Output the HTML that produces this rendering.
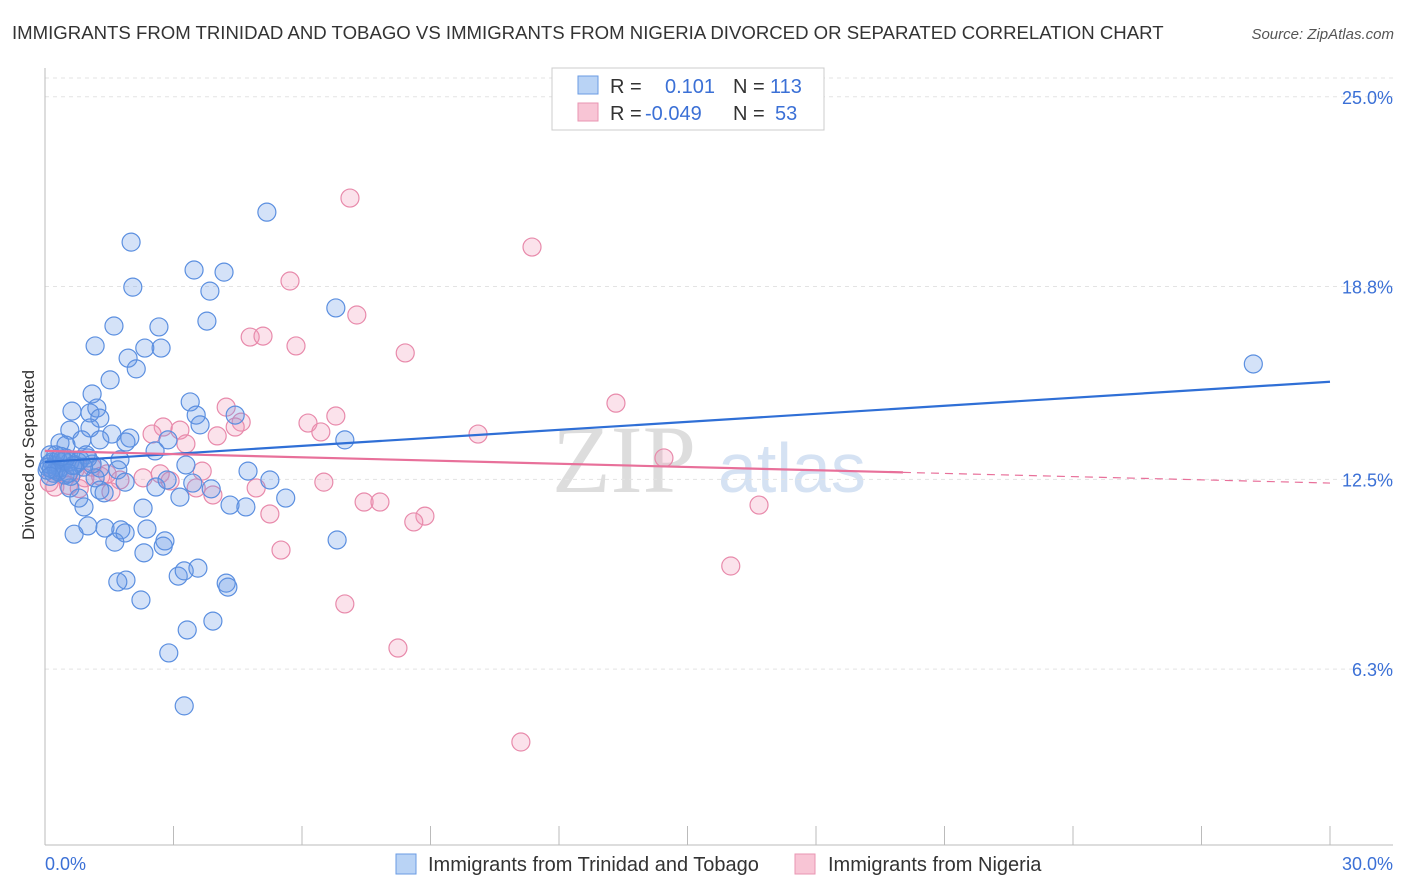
<!DOCTYPE html>
<html><head><meta charset="utf-8">
<style>
body{margin:0;background:#fff;font-family:"Liberation Sans",sans-serif;}
#wrap{position:relative;width:1406px;height:892px;overflow:hidden;}
svg{position:absolute;left:0;top:0;}
</style></head>
<body>
<div id="wrap">
<svg id="chart" width="1406" height="892">
  <text x="12" y="39" font-size="18.6" fill="#333">IMMIGRANTS FROM TRINIDAD AND TOBAGO VS IMMIGRANTS FROM NIGERIA DIVORCED OR SEPARATED CORRELATION CHART</text>
  <text x="1394" y="39" font-size="15" fill="#555" font-style="italic" text-anchor="end">Source: ZipAtlas.com</text>
  <text x="0" y="0" transform="translate(34,455) rotate(-90)" font-size="17" fill="#333" text-anchor="middle">Divorced or Separated</text>
  <text x="552" y="492" font-size="96" fill="#ddd" font-family="Liberation Serif,serif">ZIP</text>
  <text x="718" y="492" font-size="70" fill="#d5e2f3">atlas</text>
  <g id="grid"></g>
  <g id="pts"></g>
  <g id="trend"></g>
  <g>
    <rect x="552" y="68" width="272" height="62" fill="#fff" stroke="#ccc"/>
    <rect x="578" y="76" width="20" height="18" fill="#b9d3f5" stroke="#6a9be3"/>
    <rect x="578" y="103" width="20" height="18" fill="#f8c5d5" stroke="#e995b2"/>
    <text x="610" y="93" font-size="20" fill="#333">R = <tspan x="665" fill="#3b70d6">0.101</tspan><tspan x="733" fill="#333">N = </tspan><tspan x="770" fill="#3b70d6">113</tspan></text>
    <text x="610" y="120" font-size="20" fill="#333">R = <tspan x="645" fill="#3b70d6">-0.049</tspan><tspan x="733" fill="#333">N = </tspan><tspan x="775" fill="#3b70d6">53</tspan></text>
  </g>
  <g>
    <rect x="396" y="854" width="20" height="20" fill="#b9d3f5" stroke="#6a9be3"/>
    <text x="428" y="871" font-size="20" fill="#333">Immigrants from Trinidad and Tobago</text>
    <rect x="795" y="854" width="20" height="20" fill="#f8c5d5" stroke="#e995b2"/>
    <text x="828" y="871" font-size="20" fill="#333">Immigrants from Nigeria</text>
  </g>
  <text x="45" y="870" font-size="18" fill="#3b70d6">0.0%</text>
  <text x="1393" y="870" font-size="18" fill="#3b70d6" text-anchor="end">30.0%</text>
</svg>
</div>
<script>
const yTicks=[25.0,18.8,12.5,6.3];
const yTickLabels=["25.0%","18.8%","12.5%","6.3%"];
const xTicks=[0,3,6,9,12,15,18,21,24,27,30];
const blueX=[5.18,2.01,3.48,4.18,2.05,3.85,6.79,3.78,1.61,2.66,1.17,2.33,2.71,1.94,2.13,28.21,1.52,1.10,3.39,0.63,1.21,1.05,1.28,3.53,4.44,3.62,0.58,1.05,1.56,1.98,2.87,7.0,0.35,0.49,0.86,1.28,1.89,2.57,0.12,0.30,0.58,0.96,1.75,3.29,4.74,1.70,0.26,0.77,1.28,5.25,0.47,1.17,1.87,2.59,2.85,3.45,3.88,1.28,0.58,1.38,3.15,4.32,4.69,5.62,0.79,0.91,2.29,0.68,1.0,1.40,1.77,2.38,1.87,1.63,2.80,2.76,2.31,6.82,1.89,1.70,3.11,3.25,3.57,4.23,4.27,2.24,3.32,3.92,2.89,3.25,0.16,0.23,0.40,0.07,0.35,0.70,0.82,1.0,0.49,0.2,0.6,0.1,0.3,0.45,0.15,0.9,1.1,0.05,0.55,0.25,0.65,0.38,0.12];
const blueY=[21.23,20.25,19.34,19.27,18.78,18.65,18.10,17.67,17.51,17.48,16.86,16.79,16.79,16.46,16.11,16.27,15.75,15.29,15.03,14.73,14.83,14.67,14.50,14.60,14.60,14.28,14.11,14.18,13.98,13.85,13.79,13.79,13.69,13.62,13.79,13.79,13.72,13.43,13.30,13.14,13.07,13.30,13.14,12.97,12.77,12.81,12.81,13.07,12.87,12.48,12.64,12.55,12.41,12.25,12.48,12.38,12.19,12.15,12.22,12.06,11.92,11.66,11.60,11.89,11.89,11.60,11.56,10.71,10.98,10.91,10.85,10.88,10.75,10.45,10.49,10.32,10.10,10.52,9.21,9.15,9.34,9.51,9.60,9.11,8.98,8.56,7.58,7.87,6.83,5.10,13.07,12.97,13.14,12.90,12.87,12.97,13.14,13.2,13.2,12.7,12.6,13.0,12.75,13.1,12.85,12.9,13.0,12.8,12.7,13.3,12.95,13.25,12.6];
const pinkX=[7.12,11.37,5.72,7.28,4.79,5.09,5.86,8.41,13.33,4.23,6.79,6.14,4.58,4.44,2.76,3.15,2.50,6.44,4.02,10.11,3.29,14.45,3.67,2.69,2.29,2.92,1.75,1.45,6.51,4.93,3.53,3.92,7.45,7.82,1.54,16.67,5.25,8.87,8.61,5.51,16.01,7.0,8.24,11.11,0.23,0.40,0.70,0.93,1.1,0.1,0.55,1.3,0.8];
const pinkY=[21.69,20.09,18.98,17.87,17.15,17.18,16.86,16.63,14.99,14.86,14.57,14.34,14.37,14.21,14.21,14.11,13.98,14.05,13.92,13.98,13.66,13.20,12.77,12.68,12.55,12.45,12.48,12.68,12.41,12.22,12.22,11.99,11.76,11.76,12.09,11.66,11.37,11.30,11.11,10.19,9.67,8.43,6.99,3.92,12.25,12.64,12.81,12.55,12.9,12.4,12.3,12.6,12.2];
const blueTrend=[13.07,15.69];
const pinkTrend=[13.43,12.38];
const pinkSolidEnd=20.03;

const X0=45,X1=1330,YB=862,PXPER=30.61;
const sx=v=>X0+(X1-X0)*v/30;
const sy=v=>YB-v*PXPER;
const NS='http://www.w3.org/2000/svg';
function mk(tag,attrs,parent){const e=document.createElementNS(NS,tag);for(const k in attrs)e.setAttribute(k,attrs[k]);parent.appendChild(e);return e;}
const grid=document.getElementById('grid');
yTicks.forEach((t,i)=>{
  const l=mk('line',{x1:X0,x2:1393,y1:sy(t),y2:sy(t),stroke:'#e3e3e3','stroke-dasharray':'4,4'},grid);
  
  
  const tx=mk('text',{x:1393,y:sy(t)+7,'font-size':18,fill:'#3b70d6','text-anchor':'end'},grid);
  tx.textContent=yTickLabels[i];
  
  
});
const topGrid=mk('line',{x1:X0,x2:1393,y1:78,y2:78,stroke:'#e3e3e3','stroke-dasharray':'4,4'},grid);


const ya=mk('line',{x1:X0,x2:X0,y1:68,y2:845,stroke:'#bbb'},grid);


const xa=mk('line',{x1:X0,x2:1393,y1:845,y2:845,stroke:'#bbb'},grid);


xTicks.forEach(t=>{
  const l=mk('line',{x1:sx(t),x2:sx(t),y1:826,y2:845,stroke:'#bbb'},grid);
  
  
});
const pts=document.getElementById('pts');
pinkX.forEach((x,i)=>{
  const c=mk('circle',{cx:sx(x),cy:sy(pinkY[i]),r:9,fill:'rgba(240,150,182,0.28)',stroke:'#e88aab','stroke-width':1.2},pts);
  
  
});
blueX.forEach((x,i)=>{
  const c=mk('circle',{cx:sx(x),cy:sy(blueY[i]),r:9,fill:'rgba(100,150,230,0.28)',stroke:'#5b8fe0','stroke-width':1.2},pts);
  
  
});
const tr=document.getElementById('trend');
const bl=mk('line',{x1:sx(0),y1:sy(blueTrend[0]),x2:sx(30),y2:sy(blueTrend[1]),stroke:'#2f6fd6','stroke-width':2.2},tr);


const pm=pinkTrend[0]+(pinkTrend[1]-pinkTrend[0])*pinkSolidEnd/30;
const pl=mk('line',{x1:sx(0),y1:sy(pinkTrend[0]),x2:sx(pinkSolidEnd),y2:sy(pm),stroke:'#e8709a','stroke-width':2.2},tr);


const pd=mk('line',{x1:sx(pinkSolidEnd),y1:sy(pm),x2:sx(30),y2:sy(pinkTrend[1]),stroke:'#e8709a','stroke-width':1.2,'stroke-dasharray':'8,6'},tr);


</script>
</body></html>
